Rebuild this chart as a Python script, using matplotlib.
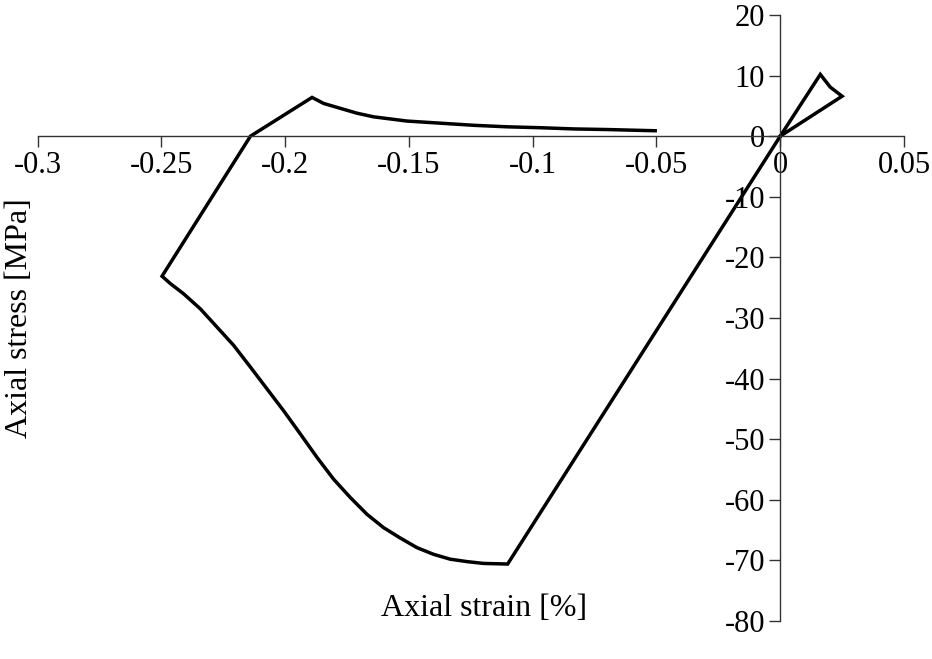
import matplotlib
matplotlib.use("Agg")
import matplotlib.pyplot as plt
from matplotlib.ticker import FixedLocator, FuncFormatter

plt.rcParams['font.family'] = ['Liberation Serif', 'DejaVu Serif']
plt.rcParams['axes.unicode_minus'] = False

# Data (axial strain [%], axial stress [MPa])
strain = [0, 0.0162, 0.0202, 0.0250, 0,
          -0.1101, -0.1198, -0.1265, -0.1333, -0.1400, -0.1467, -0.1535,
          -0.1602, -0.1669, -0.1737, -0.1804, -0.1871, -0.1939, -0.2006,
          -0.2073, -0.2140, -0.2208, -0.2275, -0.2342, -0.2410, -0.2464,
          -0.2497,
          -0.2140, -0.1891, -0.1844, -0.1777, -0.1710, -0.1643, -0.1508,
          -0.1373, -0.1239, -0.1104, -0.0969, -0.0835, -0.0700, -0.0505]
stress = [0, 10.2, 8.1, 6.6, 0,
          -70.6, -70.5, -70.2, -69.8, -69.0, -67.9, -66.3,
          -64.6, -62.4, -59.6, -56.6, -53.0, -49.1, -45.3,
          -41.7, -38.1, -34.5, -31.5, -28.5, -26.0, -24.3,
          -23.1,
          0, 6.4, 5.4, 4.6, 3.8, 3.2, 2.5,
          2.15, 1.8, 1.55, 1.4, 1.2, 1.1, 0.9]

x_ticks = [-0.3, -0.25, -0.2, -0.15, -0.1, -0.05, 0, 0.05]
y_ticks = [-80, -70, -60, -50, -40, -30, -20, -10, 0, 10, 20]
x_label = "Axial strain [%]"
y_label = "Axial stress [MPa]"

W, H = 932, 659
fig = plt.figure(figsize=(W / 100, H / 100), dpi=100)
left, right, top, bottom = 37.5, 904, 15, 621
ax = fig.add_axes([left / W, 1 - bottom / H, (right - left) / W, (bottom - top) / H])

ax.plot(strain, stress, color='black', linewidth=2.5, solid_joinstyle='miter')

ax.set_xlim(-0.3, 0.05)
ax.set_ylim(-80, 20)

for s in ['top', 'right']:
    ax.spines[s].set_visible(False)
ax.spines['left'].set_position(('data', 0))
ax.spines['bottom'].set_position(('data', 0))
for s in ['left', 'bottom']:
    ax.spines[s].set_linewidth(1.0)
    ax.spines[s].set_color('#333333')

ax.xaxis.set_major_locator(FixedLocator(x_ticks))
ax.yaxis.set_major_locator(FixedLocator(y_ticks))
ax.xaxis.set_major_formatter(FuncFormatter(lambda v, p: ('%g' % round(v, 4))))
ax.yaxis.set_major_formatter(FuncFormatter(lambda v, p: ('%g' % round(v, 4))))
ax.tick_params(axis='both', direction='out', length=8, width=1.0, color='#333333',
               labelsize=22, pad=3)

fig.text(484 / W, 1 - 608 / H, x_label, ha='center', va='center', fontsize=23)
fig.text(20 / W, 1 - 318 / H, y_label, ha='center', va='center', fontsize=23, rotation=90)

fig.savefig('out.png', dpi=100)
